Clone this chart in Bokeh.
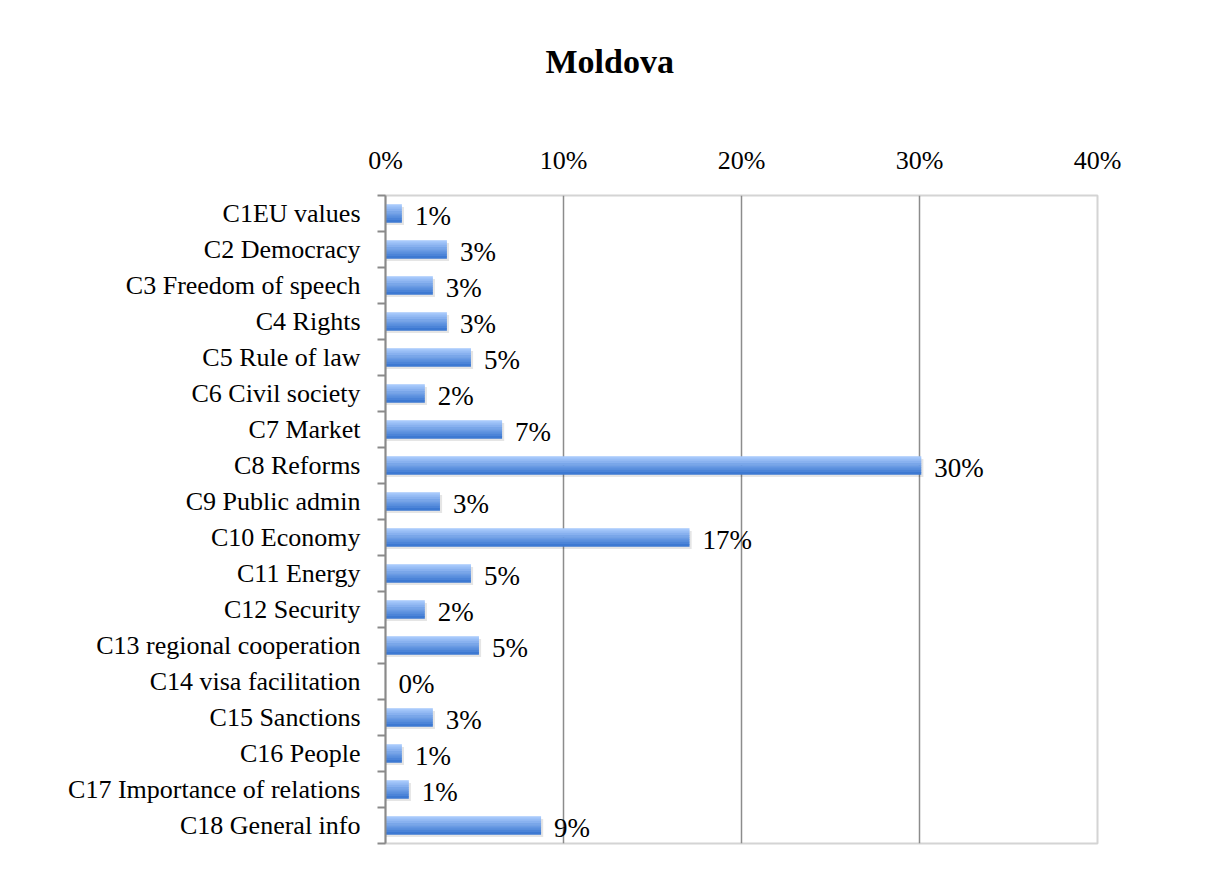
from bokeh.plotting import figure
from bokeh.models import Range1d, FixedTicker, ColumnDataSource, LabelSet
from bokeh.core.properties import value
from bokeh.embed import file_html
from bokeh.resources import INLINE

categories = ["C1EU values", "C2 Democracy", "C3 Freedom of speech", "C4 Rights",
              "C5 Rule of law", "C6 Civil society", "C7 Market", "C8 Reforms",
              "C9 Public admin", "C10 Economy", "C11 Energy", "C12 Security",
              "C13 regional cooperation", "C14 visa facilitation", "C15 Sanctions",
              "C16 People", "C17 Importance of relations", "C18 General info"]
values = [0.92, 3.45, 2.66, 3.45, 4.80, 2.21, 6.55, 30.1, 3.06, 17.08,
          4.80, 2.21, 5.25, 0.0, 2.66, 0.92, 1.31, 8.74]
x_ticks = [0, 10, 20, 30, 40]
x_tick_labels = ["0%", "10%", "20%", "30%", "40%"]

n = len(categories)
ycent = [i + 0.5 for i in range(n)]
labels = [f"{round(v)}%" for v in values]

FONT = "Liberation Serif"

p = figure(width=1197, height=863, output_backend="svg", toolbar_location=None,
           x_range=Range1d(0, 40), y_range=Range1d(n, 0),
           x_axis_location="above", min_border_left=385, min_border_right=100,
           min_border_top=195, min_border_bottom=20)

p.title.text = "Moldova\n "
p.title.align = "left"
p.title.offset = 160
p.title.text_font = FONT
p.title.text_font_size = "34px"
p.title.text_font_style = "bold"
p.title.text_color = "#000000"
p.title.standoff = 52

# bar shadow
p.hbar(y=[y + 0.07 for y in ycent], left=0, right=[v + 0.12 if v > 0 else 0 for v in values],
       height=0.5, fill_color="#000000", fill_alpha=0.10, line_color=None)

# gradient bars built from stripes
top = (0xA6, 0xC8, 0xFB)
bot = (0x3D, 0x79, 0xD2)
ns = 8
bh = 0.5
for k in range(ns):
    t = k / (ns - 1)
    c = tuple(int(round(top[j] + (bot[j] - top[j]) * t)) for j in range(3))
    col = "#%02x%02x%02x" % c
    ys = [y - bh / 2 + bh / ns * (k + 0.5) for y in ycent]
    p.hbar(y=ys, left=0, right=values, height=bh / ns + 0.02, fill_color=col, line_color=None)

src = ColumnDataSource(dict(x=values, y=ycent, t=labels))
p.add_layout(LabelSet(x="x", y="y", text="t", source=src, x_offset=13, y_offset=-2,
                      text_font=value("Times"), text_font_size=value("27px"),
                      text_baseline="middle", text_align="left", text_color="#000000"))

# axes
xa = p.xaxis[0]
xa.ticker = FixedTicker(ticks=x_ticks)
xa.major_label_overrides = {t: l for t, l in zip(x_ticks, x_tick_labels)}
xa.axis_line_color = None
xa.major_tick_line_color = None
xa.minor_tick_line_color = None
xa.major_label_standoff = 15
xa.major_label_text_font = FONT
xa.major_label_text_font_size = "26px"
xa.major_label_text_color = "#000000"

ya = p.yaxis[0]
ya.ticker = FixedTicker(ticks=ycent, minor_ticks=list(range(n + 1)))
ya.major_label_overrides = {y: c for y, c in zip(ycent, categories)}
ya.axis_line_color = "#8a8a8a"
ya.axis_line_width = 2
ya.major_tick_line_color = None
ya.major_tick_out = 0
ya.major_tick_in = 0
ya.minor_tick_line_color = "#8a8a8a"
ya.minor_tick_line_width = 2
ya.minor_tick_out = 8
ya.minor_tick_in = 0
ya.major_label_standoff = 17
ya.major_label_text_font = FONT
ya.major_label_text_font_size = "26px"
ya.major_label_text_color = "#000000"

p.xgrid.ticker = FixedTicker(ticks=[10, 20, 30])
p.xgrid.grid_line_color = "#8c8c8c"
p.xgrid.grid_line_width = 1.5
p.ygrid.grid_line_color = None

p.outline_line_color = "#d4d4d4"
p.outline_line_width = 2

open("out.html", "w").write(file_html(p, INLINE))
